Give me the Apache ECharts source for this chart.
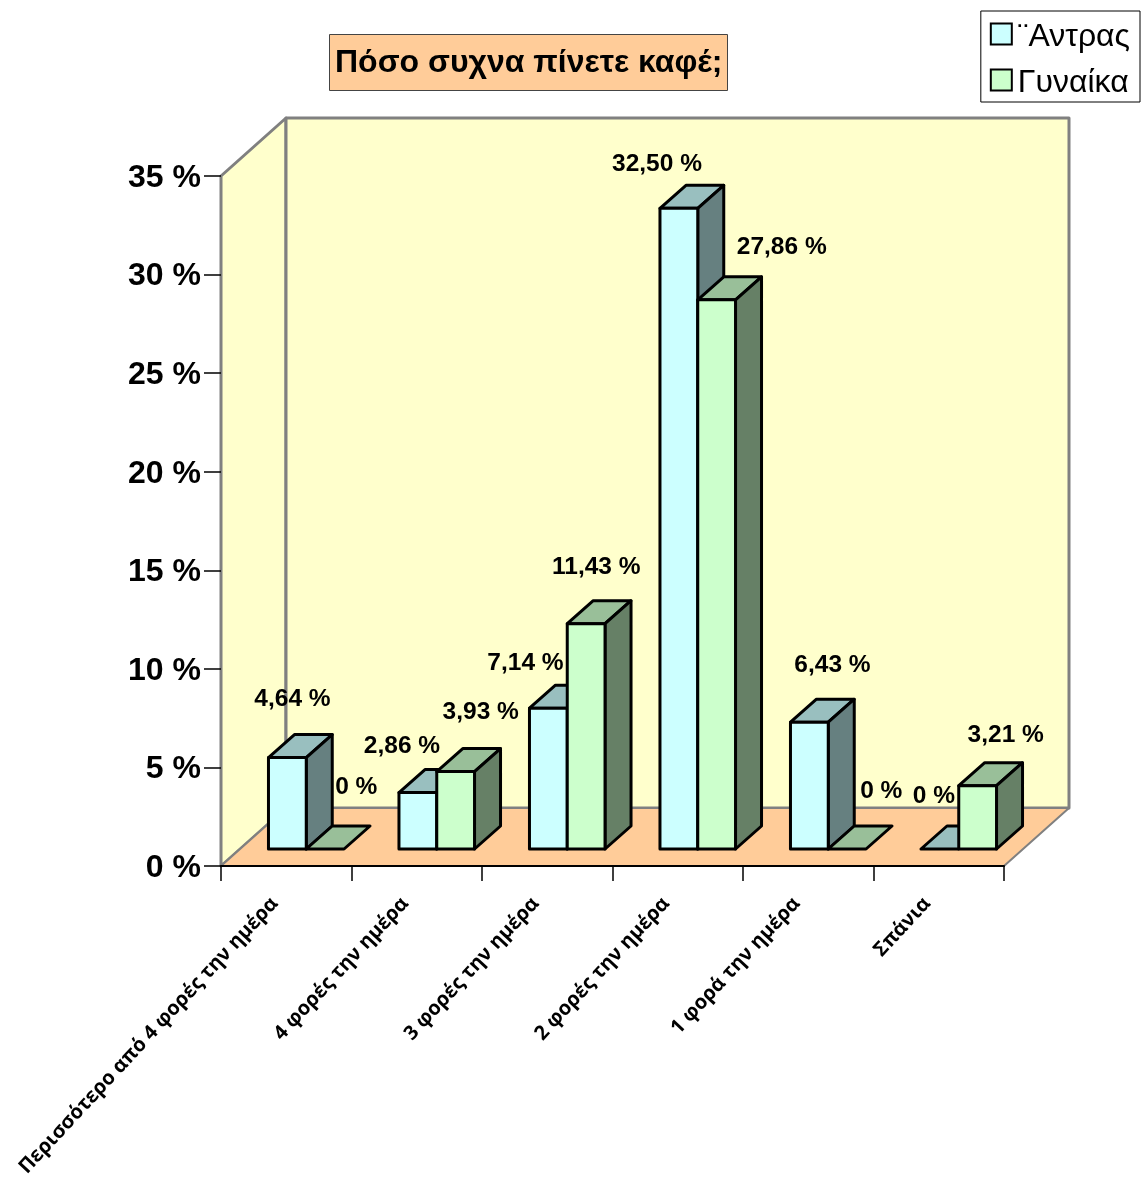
<!DOCTYPE html>
<html>
<head>
<meta charset="utf-8">
<style>html,body{margin:0;padding:0;background:#fff}#chart{width:1141px;height:1178px}</style>
<script src="https://cdn.jsdelivr.net/npm/echarts@6/dist/echarts.min.js"></script>
</head>
<body>
<div id="chart"></div>
<script>
// Coffee-drinking frequency by gender, in percent.
const categories = [
  'Περισσότερο από 4 φορές την ημέρα',
  '4 φορές την ημέρα',
  '3 φορές την ημέρα',
  '2 φορές την ημέρα',
  '1 φορά την ημέρα',
  'Σπάνια'
];
const men = [4.64, 2.86, 7.14, 32.50, 6.43, 0];
const women = [0, 3.93, 11.43, 27.86, 0, 3.21];
const yTicks = [0, 5, 10, 15, 20, 25, 30, 35];

// Hand-placed data label offsets from each bar's back-top corner area.
const menLabelNudge = [[24, -35], [3, -23], [-4, -22], [-3, -21], [42, -34], [13, -30]];
const womenLabelNudge = [[50, -39], [44, -36], [29, -33], [84, -30], [53, -35], [47, -27]];

// Extrusion used by the pseudo-3D box: floor set-back, bar depth and full wall depth.
const WALL_DX = 65, WALL_DY = -58;
const GAP_DX = 20, GAP_DY = -17;
const BAR_DX = 26, BAR_DY = -23;
const BAR_RATIO = 0.2895;
const FONT = '"Liberation Sans", Arial, sans-serif';

const percentLabel = v => v === 0 ? '0 %' : v.toFixed(2).replace('.', ',') + ' %';
const poly = (points, fill, stroke, width) => ({
  type: 'polygon',
  shape: { points },
  style: { fill, stroke, lineWidth: width, lineJoin: 'round' }
});

// Side walls and floor of the plot box.
function renderBox(params) {
  const g = params.coordSys;
  const l = g.x, r = g.x + g.width, t = g.y, b = g.y + g.height;
  const wall = '#FFFFCC', edge = '#808080';
  return {
    type: 'group',
    children: [
      poly([[l, b], [l, t], [l + WALL_DX, t + WALL_DY], [l + WALL_DX, b + WALL_DY]], wall, edge, 3),
      poly([[l + WALL_DX, t + WALL_DY], [r + WALL_DX, t + WALL_DY], [r + WALL_DX, b + WALL_DY], [l + WALL_DX, b + WALL_DY]], wall, edge, 3),
      poly([[l, b], [r, b], [r + WALL_DX, b + WALL_DY], [l + WALL_DX, b + WALL_DY]], '#FFCC99', edge, 2)
    ]
  };
}

// One extruded bar; a zero value leaves only the flat top face on the floor.
function barRenderer(slot, front, top, side) {
  return function (params, api) {
    const idx = api.value(0);
    const base = api.coord([idx, 0]);
    const high = api.coord([idx, api.value(1)]);
    const w = api.size([1, 0])[0] * BAR_RATIO;
    const x0 = base[0] + GAP_DX - w + slot * w;
    const x1 = x0 + w;
    const yB = base[1] + GAP_DY;
    const yT = high[1] + GAP_DY;
    const children = [
      poly([[x0, yT], [x0 + BAR_DX, yT + BAR_DY], [x1 + BAR_DX, yT + BAR_DY], [x1, yT]], top, '#000', 3)
    ];
    if (api.value(1) > 0) {
      children.push(
        poly([[x1, yB], [x1 + BAR_DX, yB + BAR_DY], [x1 + BAR_DX, yT + BAR_DY], [x1, yT]], side, '#000', 3),
        poly([[x0, yB], [x1, yB], [x1, yT], [x0, yT]], front, '#000', 3)
      );
    }
    return { type: 'group', children };
  };
}

// Value labels above each bar.
function labelRenderer(slot, nudges) {
  return function (params, api) {
    const idx = api.value(0);
    const v = api.value(1);
    const high = api.coord([idx, v]);
    const w = api.size([1, 0])[0] * BAR_RATIO;
    const x0 = high[0] + GAP_DX - w + slot * w;
    const n = nudges[idx];
    return {
      type: 'text',
      x: x0 + n[0],
      y: high[1] + GAP_DY + BAR_DY + n[1],
      style: {
        text: percentLabel(v),
        fill: '#000',
        font: 'bold 24.5px ' + FONT,
        align: 'center',
        verticalAlign: 'middle'
      }
    };
  };
}

const rows = values => values.map((v, i) => [i, v]);

const chart = echarts.init(document.getElementById('chart'), null, { renderer: 'canvas' });
chart.setOption({
  animation: false,
  backgroundColor: '#fff',
  title: {
    text: 'Πόσο συχνα πίνετε καφέ;',
    left: 329,
    top: 34,
    padding: [13, 5, 12, 6],
    backgroundColor: '#FFCC99',
    borderColor: '#444',
    borderWidth: 1,
    textStyle: { fontFamily: FONT, fontWeight: 'bold', fontSize: 32, color: '#000' }
  },
  legend: {
    orient: 'vertical',
    right: 1,
    top: 11,
    padding: [10, 10, 3, 9],
    itemGap: 14,
    itemWidth: 21,
    itemHeight: 21,
    borderColor: '#000',
    borderWidth: 1,
    backgroundColor: '#fff',
    textStyle: {
      fontFamily: FONT,
      color: '#000',
      rich: { t: { fontFamily: FONT, fontSize: 32, color: '#000', padding: [6, 0, 0, 1] } }
    },
    formatter: name => '{t|' + name + '}',
    data: [
      { name: '¨Αντρας', icon: 'rect', itemStyle: { color: '#CCFFFF', borderColor: '#000', borderWidth: 2 } },
      { name: 'Γυναίκα', icon: 'rect', itemStyle: { color: '#CCFFCC', borderColor: '#000', borderWidth: 2 } }
    ]
  },
  grid: { left: 221, right: 137, top: 176, bottom: 312, containLabel: false, outerBoundsMode: 'none' },
  xAxis: {
    type: 'category',
    data: categories,
    z: 3,
    axisLine: { show: true, lineStyle: { color: '#000', width: 2 } },
    axisTick: { show: true, length: 15, lineStyle: { color: '#000', width: 1.5 }, alignWithLabel: false },
    axisLabel: {
      interval: 0,
      rotate: 47,
      margin: 22,
      padding: [0, 17, 0, 0],
      fontFamily: '"Open Sans", "DejaVu Sans", sans-serif',
      fontWeight: 'bold',
      fontSize: 20,
      color: '#000'
    },
    splitLine: { show: false }
  },
  yAxis: {
    type: 'value',
    min: yTicks[0],
    max: yTicks[yTicks.length - 1],
    interval: yTicks[1] - yTicks[0],
    z: 3,
    axisLine: { show: false },
    axisTick: { show: true, length: 17, lineStyle: { color: '#000', width: 1.5 } },
    axisLabel: {
      margin: 20,
      formatter: '{n|{value} %}',
      rich: { n: { fontFamily: FONT, fontWeight: 'bold', fontSize: 32, color: '#000', padding: [4, 0, 0, 0] } }
    },
    splitLine: { show: false }
  },
  series: [
    { type: 'custom', name: 'box', z: 1, silent: true, clip: false, data: [[0, 0]], renderItem: renderBox },
    {
      type: 'custom', name: '¨Αντρας', z: 4, clip: false, data: rows(men),
      itemStyle: { color: '#CCFFFF' },
      renderItem: barRenderer(0, '#CCFFFF', '#99BFBF', '#668080')
    },
    {
      type: 'custom', name: 'Γυναίκα', z: 5, clip: false, data: rows(women),
      itemStyle: { color: '#CCFFCC' },
      renderItem: barRenderer(1, '#CCFFCC', '#99BF99', '#668066')
    },
    { type: 'custom', name: 'men values', z: 6, clip: false, silent: true, data: rows(men), renderItem: labelRenderer(0, menLabelNudge) },
    { type: 'custom', name: 'women values', z: 6, clip: false, silent: true, data: rows(women), renderItem: labelRenderer(1, womenLabelNudge) }
  ]
});
</script>
</body>
</html>
